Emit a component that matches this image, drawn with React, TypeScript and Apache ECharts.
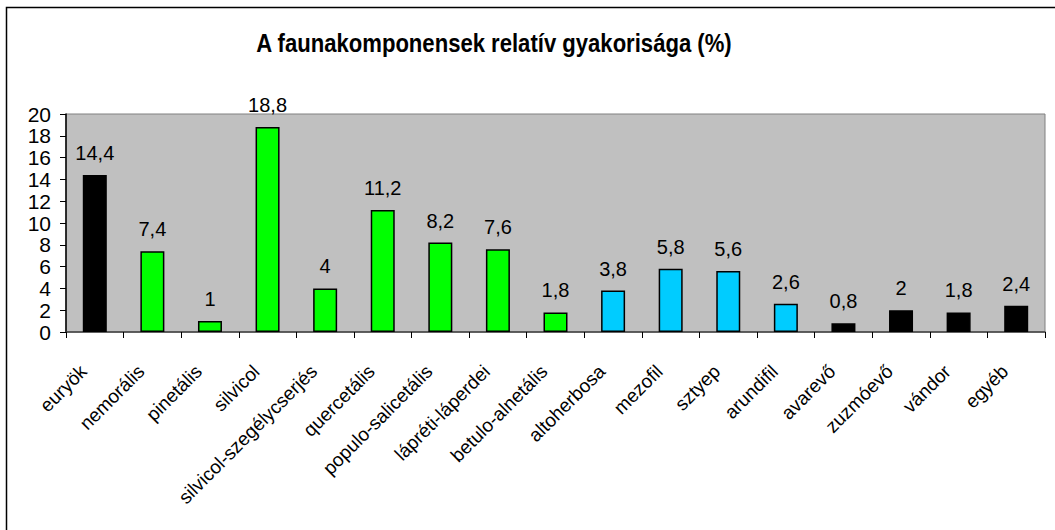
import React, { useEffect, useRef } from "react";
import * as echarts from "echarts";

const categories = [
  "euryök", "nemorális", "pinetális", "silvicol", "silvicol-szegélycserjés",
  "quercetális", "populo-salicetális", "lápréti-láperdei", "betulo-alnetális",
  "altoherbosa", "mezofil", "sztyep", "arundifil", "avarevő", "zuzmóevő",
  "vándor", "egyéb",
];
const values = [14.4, 7.4, 1, 18.8, 4, 11.2, 8.2, 7.6, 1.8, 3.8, 5.8, 5.6, 2.6, 0.8, 2, 1.8, 2.4];
const groups = ["k", "g", "g", "g", "g", "g", "g", "g", "g", "c", "c", "c", "c", "k", "k", "k", "k"];
const groupColors: Record<string, string> = { k: "#000000", g: "#00FF00", c: "#00CCFF" };
const titleText = "A faunakomponensek relatív gyakorisága (%)";

const FONT = "'Liberation Sans', Arial, sans-serif";

export default function App() {
  const ref = useRef<HTMLDivElement>(null);
  useEffect(() => {
    document.body.style.margin = "0";
    const chart = echarts.init(ref.current!, undefined, { renderer: "svg" });
    chart.setOption({
      animation: false,
      textStyle: { fontFamily: FONT },
      graphic: [
        {
          type: "rect",
          shape: { x: 6.5, y: 7.5, width: 1200, height: 700 },
          style: { fill: "none", stroke: "#000", lineWidth: 1.5 },
          silent: true,
          z: -1,
        },
        {
          type: "text",
          x: 494,
          y: 43,
          scaleX: 0.85,
          style: {
            text: titleText,
            font: `bold 26px ${FONT}`,
            fill: "#000",
            textAlign: "center",
            textVerticalAlign: "middle",
          },
        },
      ],
      grid: {
        left: 66,
        top: 114,
        right: 10,
        bottom: 198,
        show: true,
        backgroundColor: "#C0C0C0",
        borderColor: "#808080",
        borderWidth: 1,
      },
      xAxis: {
        type: "category",
        data: categories,
        axisLine: { lineStyle: { color: "#404040", width: 1.5 } },
        axisTick: { show: true, length: 6, lineStyle: { color: "#000" } },
        axisLabel: {
          rotate: 45,
          fontSize: 19,
          color: "#000",
          margin: 25,
          padding: [0, 16, 0, 0],
          interval: 0,
        },
      },
      yAxis: {
        type: "value",
        min: 0,
        max: 20,
        interval: 2,
        splitLine: { show: false },
        axisLine: { show: true, lineStyle: { color: "#000", width: 1.5 } },
        axisTick: { show: true, length: 6, lineStyle: { color: "#000" } },
        axisLabel: { fontSize: 21, color: "#000", margin: 15 },
      },
      series: [
        {
          type: "bar",
          barWidth: 24,
          data: values.map((v, i) => ({
            value: v,
            itemStyle: {
              color: groupColors[groups[i]],
              borderColor: "#000",
              borderWidth: 1.5,
            },
          })),
          label: {
            show: true,
            position: "top",
            distance: 12,
            fontSize: 20,
            color: "#000",
            formatter: (p: any) => String(p.value).replace(".", ","),
          },
        },
      ],
    });
    return () => chart.dispose();
  }, []);
  return <div ref={ref} style={{ width: 1055, height: 530 }} />;
}
